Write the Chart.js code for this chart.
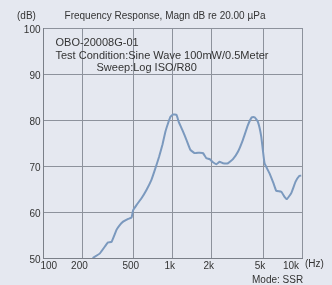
<!DOCTYPE html>
<html>
<head>
<meta charset="utf-8">
<title>Frequency Response</title>
<script src="https://cdn.jsdelivr.net/npm/chart.js@4/dist/chart.umd.min.js"></script>
<style>
    html, body { margin: 0; padding: 0; background: #e5e8f0; }
    #wrap { width: 332px; height: 285px; }
</style>
</head>
<body>
<div id="wrap"><canvas id="freqChart" width="332" height="285"></canvas></div>
<script>
// Measured response (Hz, dB)
const freqs = [240, 273, 304, 316, 336, 367, 385, 413, 452, 480, 494, 524, 573, 626, 684, 726,
    784, 832, 878, 920, 960, 1005, 1069, 1112, 1188, 1276, 1370, 1479, 1616, 1714, 1820, 1931,
    2049, 2175, 2307, 2447, 2675, 2924, 3194, 3490, 3816, 4095, 4298, 4560, 4839, 5131, 5610,
    6024, 6319, 6909, 7324, 7640, 8258, 8918, 9573, 9865];
const levels = [50.0, 51.0, 52.8, 53.4, 53.5, 56.1, 57.0, 57.9, 58.5, 58.8, 60.4, 61.5, 63.0, 64.8,
    67.0, 69.1, 72.0, 74.6, 77.5, 79.3, 80.7, 81.2, 81.1, 79.6, 77.8, 75.7, 73.5, 72.8, 72.9,
    72.8, 71.7, 71.5, 70.8, 70.4, 70.9, 70.6, 70.6, 71.5, 73.1, 75.7, 78.9, 80.6, 80.6, 79.6,
    76.4, 70.6, 68.4, 66.2, 64.6, 64.4, 63.3, 62.8, 64.1, 66.6, 67.9, 67.9];

// Axis ticks
const freqTicks = [100, 200, 500, 1000, 2000, 5000, 10000];
const freqTickLabels = ['100', '200', '500', '1k', '2k', '5k', '10k'];
const levelTicks = [50, 60, 70, 80, 90, 100];

// Header / notes
const titleText = 'Frequency Response, Magn dB re 20.00 \u00b5Pa';
const noteLines = ['OBO-20008G-01', 'Test Condition:Sine Wave 100mW/0.5Meter', 'Sweep:Log ISO/R80'];

const COLORS = {
    TEXT: '#333333',
    GRID: '#8d929c',
    LINE: '#7b99be'
};
const FONT = '"Liberation Sans", Arial, sans-serif';

const FreqChart = {
    chart: null,

    /**
     * Text drawn around the plot (title, units, notes)
     */
    textPlugin: {
        id: 'freqText',
        afterDraw(chart) {
            const ctx = chart.ctx;
            const area = chart.chartArea;
            ctx.save();
            ctx.fillStyle = COLORS.TEXT;
            ctx.textBaseline = 'middle';
            ctx.font = '10px ' + FONT;

            ctx.textAlign = 'left';
            ctx.fillText('(dB)', 17, 16);
            ctx.textAlign = 'center';
            ctx.fillText(titleText, 165, 16);

            ctx.textAlign = 'left';
            ctx.font = '11px ' + FONT;
            ctx.fillText(noteLines[0], area.left + 12, 43);
            ctx.fillText(noteLines[1], area.left + 12, 56);
            ctx.fillText(noteLines[2], area.left + 53, 68);

            ctx.font = '10px ' + FONT;
            ctx.fillText('(Hz)', area.right + 3, 264);
            ctx.fillText('Mode: SSR', 252, 280);
            ctx.restore();
        }
    },

    /**
     * Build chart
     */
    create(canvasId) {
        const ctx = document.getElementById(canvasId).getContext('2d');
        const points = freqs.map((f, i) => ({ x: f, y: levels[i] }));

        this.chart = new Chart(ctx, {
            type: 'scatter',
            data: {
                datasets: [{
                    data: points,
                    showLine: true,
                    borderColor: COLORS.LINE,
                    borderWidth: 2,
                    pointRadius: 0,
                    tension: 0.1
                }]
            },
            options: {
                responsive: false,
                animation: false,
                layout: { padding: { left: 0, right: 30, top: 28, bottom: 0 } },
                plugins: {
                    legend: { display: false },
                    tooltip: { enabled: false },
                    title: { display: false }
                },
                scales: {
                    x: {
                        type: 'logarithmic',
                        min: 100,
                        max: 10000,
                        afterBuildTicks(scale) {
                            scale.ticks = freqTicks.map(v => ({ value: v }));
                        },
                        afterFit(scale) { scale.height = 27; },
                        ticks: {
                            autoSkip: false,
                            maxRotation: 0,
                            align: 'inner',
                            labelOffset: -3,
                            padding: 2,
                            color: COLORS.TEXT,
                            font: { family: FONT, size: 10 },
                            callback(value) {
                                const i = freqTicks.indexOf(value);
                                return i >= 0 ? freqTickLabels[i] : '';
                            }
                        },
                        grid: { color: COLORS.GRID, lineWidth: 1, drawTicks: false },
                        border: { color: '#7a7f88', width: 1 }
                    },
                    y: {
                        min: 50,
                        max: 100,
                        afterBuildTicks(scale) {
                            scale.ticks = levelTicks.map(v => ({ value: v }));
                        },
                        afterFit(scale) { scale.width = 43.5; },
                        ticks: {
                            padding: 3,
                            labelOffset: 2,
                            color: COLORS.TEXT,
                            font: { family: FONT, size: 10 }
                        },
                        grid: { color: COLORS.GRID, lineWidth: 1, drawTicks: false },
                        border: { color: '#7a7f88', width: 1 }
                    }
                }
            },
            plugins: [this.textPlugin]
        });
        return this.chart;
    }
};

FreqChart.create('freqChart');
</script>
</body>
</html>
